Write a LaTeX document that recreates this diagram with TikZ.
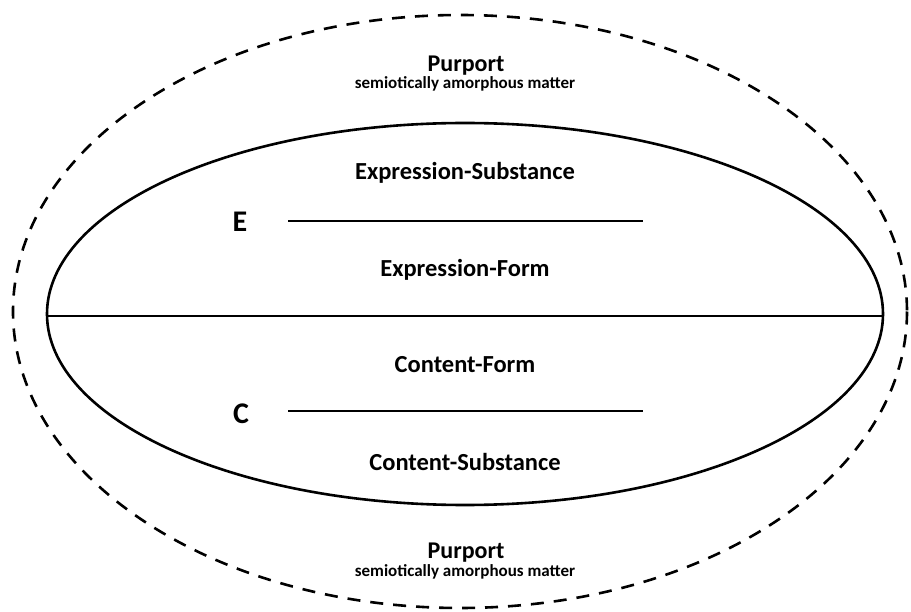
\documentclass[tikz,border=0pt]{standalone}
\usepackage{fontspec}
\setmainfont{Carlito}
\begin{document}
\begin{tikzpicture}[x=1pt,y=-1pt,
  lbl/.style={font=\bfseries\fontsize{24.5}{26}\selectfont, inner sep=0pt, anchor=base},
  big/.style={font=\bfseries\fontsize{30}{32}\selectfont, inner sep=0pt, anchor=base},
  ttl/.style={font=\bfseries\fontsize{24}{26}\selectfont, inner sep=0pt, anchor=base},
  sub/.style={font=\bfseries\fontsize{17}{19}\selectfont, inner sep=0pt, anchor=base},
  outer/.style={line width=2.6pt, dash pattern=on 13pt off 10pt},
  inner/.style={line width=2.6pt},
  rule/.style={line width=2pt}]
\useasboundingbox (0,0) rectangle (911,612);
% outer purport ellipse
\draw[outer] (460,311.5) ellipse [x radius=447, y radius=296.5];
% inner sign ellipse
\draw[inner] (465,314) ellipse [x radius=418, y radius=191];
\coordinate (L) at (47,316);
\coordinate (R) at (883,316);
\draw[rule] (L) -- (R);
% E and C dividing lines
\coordinate (e1) at (288,221);
\coordinate (e2) at (643,221);
\coordinate (c1) at (288,411);
\coordinate (c2) at (643,411);
\draw[rule] (e1) -- (e2);
\draw[rule] (c1) -- (c2);
% texts
\node[ttl] (p1) at (466,72) {Purport};
\node[sub] (s1) at (465,89) {semiotically amorphous matter};
\node[lbl] (es) at (465,180) {Expression-Substance};
\node[big] (E) at (240,232) {E};
\node[lbl] (ef) at (465,277) {Expression-Form};
\node[lbl] (cf) at (465,373) {Content-Form};
\node[big] (C) at (241,424) {C};
\node[lbl] (cs) at (465,470) {Content-Substance};
\node[ttl] (p2) at (466,558) {Purport};
\node[sub] (s2) at (465,576) {semiotically amorphous matter};
\end{tikzpicture}
\end{document}
